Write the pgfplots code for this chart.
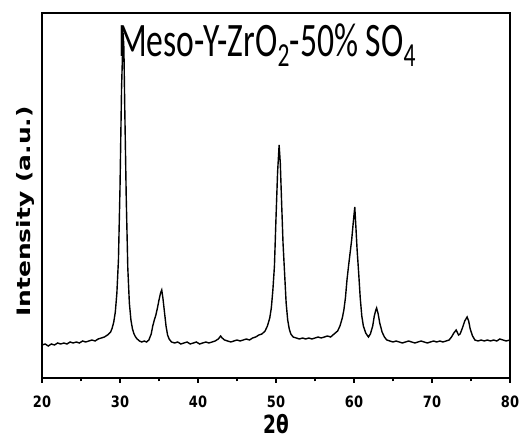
\documentclass[border=0pt]{standalone}
\usepackage{pgfplots}
\pgfplotsset{compat=1.18}
\usepackage{fontspec}
\setmainfont{Carlito}
\newfontfamily\heavy{DejaVu Sans}
\newcommand{\tl}[1]{\scalebox{1}[1.2]{\heavy\bfseries #1}}

\begin{document}
\begin{tikzpicture}[x=1pt,y=1pt]
\useasboundingbox (0,0) rectangle (520,439);
\begin{axis}[
    at={(42pt,61pt)}, anchor=south west,
    scale only axis,
    width=468pt, height=365pt,
    xmin=20, xmax=80,
    ymin=0, ymax=365,
    xtick={20,30,...,80},
    xticklabels={\tl{20},\tl{30},\tl{40},\tl{50},\tl{60},\tl{70},\tl{80}},
    minor x tick num=1,
    ytick=\empty,
    xtick pos=bottom,
    tick align=outside,
    major tick length=5pt,
    minor tick length=3.5pt,
    axis line style={line width=1.4pt},
    every tick/.style={line width=1.3pt, black},
    x tick label style={font=\fontsize{13}{14}\selectfont, anchor=center, inner sep=0pt, yshift=-19pt},
    xlabel={\scalebox{1}[1.35]{\heavy\bfseries 2θ}},
    xlabel style={font=\fontsize{18.5}{20}\selectfont, inner sep=0pt, at={(axis description cs:0.5,-0.126)}, anchor=center},
    ylabel={\scalebox{1.35}[1]{\heavy\bfseries Intensity (a.u.)}},
    ylabel style={font=\fontsize{18.5}{19}\selectfont, at={(axis description cs:-0.035,0.456)}, anchor=center},
]
\addplot[black, line width=1.4pt] coordinates {
(20.0,33) (20.4,34) (20.8,32) (21.2,34) (21.6,33) (22.0,35) (22.4,34) (22.8,35)
(23.2,34) (23.6,36) (24.0,35) (24.4,36) (24.8,35) (25.2,37) (25.6,36) (26.0,37)
(26.4,38) (26.8,37) (27.2,39) (27.6,40) (28.0,41) (28.4,43) (28.8,46) (29.0,50)
(29.2,56) (29.4,66) (29.6,85) (29.8,118) (30.0,190) (30.2,290) (30.4,345) (30.5,330)
(30.6,275) (30.8,180) (31.0,110) (31.2,75) (31.4,58) (31.6,49) (31.8,44) (32.0,41)
(32.2,39) (32.5,37) (32.8,36) (33.1,37) (33.4,36) (33.7,38) (34.0,44) (34.2,52)
(34.4,58) (34.6,63) (34.8,70) (35.0,78) (35.2,85) (35.35,88) (35.5,80) (35.7,66)
(35.9,52) (36.1,43) (36.3,39) (36.6,36) (37.0,35) (37.4,36) (37.8,34) (38.2,35)
(38.6,36) (39.0,34) (39.4,35) (39.8,36) (40.2,34) (40.6,35) (41.0,36) (41.4,35)
(41.8,36) (42.2,37) (42.6,39) (42.9,42) (43.1,40) (43.4,38) (43.8,37) (44.2,36)
(44.6,37) (45.0,38) (45.4,37) (45.8,38) (46.2,39) (46.6,38) (47.0,40) (47.4,41)
(47.8,43) (48.2,44) (48.6,47) (48.9,52) (49.2,60) (49.4,70) (49.6,88) (49.8,112)
(50.0,160) (50.2,205) (50.4,233) (50.55,215) (50.7,180) (50.9,135) (51.1,105) (51.3,75)
(51.5,58) (51.7,49) (51.9,44) (52.2,41) (52.6,40) (53.0,39) (53.4,40) (53.8,39)
(54.2,40) (54.6,39) (55.0,40) (55.4,41) (55.8,40) (56.2,41) (56.6,42) (57.0,41)
(57.3,43) (57.6,45) (57.9,47) (58.2,52) (58.5,60) (58.7,68) (58.9,80) (59.1,98)
(59.3,112) (59.5,125) (59.7,138) (59.9,155) (60.1,171) (60.25,150) (60.4,128) (60.6,105)
(60.8,80) (61.0,62) (61.2,52) (61.5,45) (61.85,41) (62.1,44) (62.4,52) (62.6,62)
(62.8,68) (62.9,70) (63.1,64) (63.3,55) (63.6,46) (63.9,41) (64.2,38) (64.6,37)
(65.0,36) (65.4,37) (65.8,36) (66.2,35) (66.6,36) (67.0,37) (67.4,36) (67.8,35)
(68.2,36) (68.6,37) (69.0,36) (69.4,35) (69.8,36) (70.2,37) (70.6,36) (71.0,37)
(71.4,36) (71.8,37) (72.2,38) (72.5,41) (72.8,45) (73.1,48) (73.4,43) (73.6,44)
(73.9,50) (74.2,57) (74.5,61) (74.7,57) (74.9,49) (75.2,42) (75.5,38) (75.9,37)
(76.3,38) (76.7,37) (77.1,38) (77.5,37) (77.9,38) (78.3,37) (78.7,39) (79.1,38)
(79.5,37) (80.0,38)
};
\node[anchor=base west, inner sep=0pt, font=\fontsize{33.6}{35}\selectfont]
  at (axis cs:29.74,0) [yshift=321pt] {\scalebox{1}[1.43]{Meso-Y-ZrO\textsubscript{2}-50\% SO\textsubscript{4}}};
\end{axis}
\end{tikzpicture}
\end{document}
